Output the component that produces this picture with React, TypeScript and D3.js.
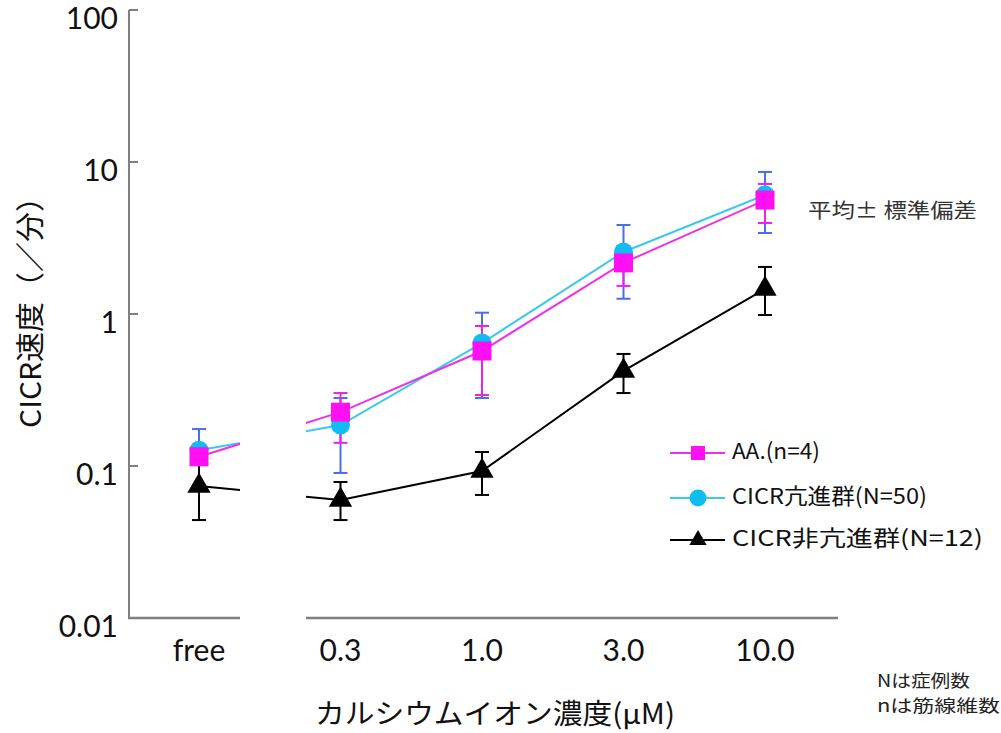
import React, { useEffect, useRef } from "react";
import * as d3 from "d3";

// categories along the x axis (calcium ion concentration)
const categories = ["free", "0.3", "1.0", "3.0", "10.0"];

// AA. (n=4)
const aaMean = [0.115, 0.226, 0.571, 2.17, 5.62];
const aaHigh = [0.13, 0.302, 0.834, 2.7, 7.17];
const aaLow = [0.102, 0.142, 0.293, 1.53, 3.97];

// CICR亢進群 (N=50)
const hyperMean = [0.127, 0.186, 0.644, 2.56, 6.07];
const hyperHigh = [0.175, 0.28, 1.02, 3.85, 8.6];
const hyperLow = [0.105, 0.09, 0.28, 1.26, 3.41];

// CICR非亢進群 (N=12)
const normMean = [0.0738, 0.0597, 0.0927, 0.422, 1.46];
const normHigh = [0.105, 0.0785, 0.1236, 0.546, 2.04];
const normLow = [0.0441, 0.0441, 0.0645, 0.302, 0.985];

const yTicks = [0.01, 0.1, 1, 10, 100];
const yTickLabels = ["0.01", "0.1", "1", "10", "100"];

const legendLabels = ["AA.(n=4)", "CICR亢進群(N=50)", "CICR非亢進群(N=12)"];

const JP = "'Noto Sans CJK JP', 'Noto Sans', sans-serif";
const NUM = "Lato, 'Open Sans', sans-serif";

const App: React.FC = () => {
  const svgRef = useRef<SVGSVGElement | null>(null);

  useEffect(() => {
    const width = 1001;
    const height = 733;
    const axisX = 129;
    const axisY = 618;
    const seg1End = 240;
    const seg2Start = 306;
    const seg2End = 838;

    const svg = d3.select(svgRef.current);
    svg.selectAll("*").remove();
    svg.attr("width", width).attr("height", height).attr("viewBox", [0, 0, width, height]);

    const x = d3.scalePoint<string>().domain(categories).range([199, 765]);
    const y = d3.scaleLog().domain([0.01, 100]).range([axisY, 10]);

    // clip that breaks the lines where the x axis is broken
    const defs = svg.append("defs");
    const clip = defs.append("clipPath").attr("id", "gapclip");
    clip.append("rect").attr("x", 0).attr("y", 0).attr("width", seg1End).attr("height", height);
    clip.append("rect").attr("x", seg2Start).attr("y", 0).attr("width", width - seg2Start).attr("height", height);

    // axes
    const axisColor = "#7f7f7f";
    svg.append("line").attr("x1", axisX).attr("x2", axisX).attr("y1", y(100)).attr("y2", axisY)
      .attr("stroke", axisColor).attr("stroke-width", 2);
    svg.append("line").attr("x1", axisX - 1).attr("x2", seg1End).attr("y1", axisY).attr("y2", axisY)
      .attr("stroke", axisColor).attr("stroke-width", 2.5);
    svg.append("line").attr("x1", seg2Start).attr("x2", seg2End).attr("y1", axisY).attr("y2", axisY)
      .attr("stroke", axisColor).attr("stroke-width", 2.5);

    const yt = svg.append("g");
    yt.selectAll("line").data(yTicks).enter().append("line")
      .attr("x1", axisX).attr("x2", axisX + 9)
      .attr("y1", (d) => y(d)).attr("y2", (d) => y(d))
      .attr("stroke", axisColor).attr("stroke-width", 2);
    yt.selectAll("text").data(yTicks).enter().append("text")
      .attr("x", 118)
      .attr("y", (d) => y(d) + 11)
      .attr("text-anchor", "end")
      .attr("dominant-baseline", "middle")
      .attr("font-family", NUM)
      .attr("font-size", 30)
      .attr("fill", "#111")
      .text((_, i) => yTickLabels[i]);

    svg.append("g").selectAll("text").data(categories).enter().append("text")
      .attr("x", (d) => x(d) as number)
      .attr("y", 661)
      .attr("text-anchor", "middle")
      .attr("font-family", NUM)
      .attr("font-size", 30)
      .attr("fill", "#111")
      .text((d) => d);

    const fitText = (sel: d3.Selection<SVGTextElement, unknown, null, undefined>, len: number) =>
      sel.attr("textLength", len).attr("lengthAdjust", "spacingAndGlyphs");

    // axis titles
    fitText(
      svg.append("text")
        .attr("transform", "translate(41,305) rotate(-90)")
        .attr("x", -123)
        .attr("font-family", JP)
        .attr("font-size", 29)
        .attr("fill", "#111")
        .text("CICR速度（／分）"),
      246,
    );

    fitText(
      svg.append("text")
        .attr("x", 315)
        .attr("y", 724)
        .attr("font-family", JP)
        .attr("font-size", 28)
        .attr("fill", "#111")
        .text("カルシウムイオン濃度(μM)"),
      360,
    );

    fitText(
      svg.append("text")
        .attr("x", 808)
        .attr("y", 218)
        .attr("font-family", JP)
        .attr("font-size", 20)
        .attr("fill", "#333")
        .text("平均± 標準偏差"),
      169,
    );

    fitText(
      svg.append("text").attr("x", 877).attr("y", 687)
        .attr("font-family", JP).attr("font-size", 17).attr("fill", "#222")
        .text("Nは症例数"),
      93,
    );
    fitText(
      svg.append("text").attr("x", 877).attr("y", 712)
        .attr("font-family", JP).attr("font-size", 17).attr("fill", "#222")
        .text("nは筋線維数"),
      123,
    );

    type Series = {
      mean: number[];
      high: number[];
      low: number[];
      line: string;
      marker: string;
      err: string;
      sym: d3.SymbolType;
      size: number;
      legendSize: number;
    };
    const series: Series[] = [
      { mean: normMean, high: normHigh, low: normLow, line: "#000", marker: "#000", err: "#000", sym: d3.symbolTriangle, size: 235, legendSize: 130 },
      { mean: hyperMean, high: hyperHigh, low: hyperLow, line: "#3cc8ee", marker: "#10bdf0", err: "#4a6cf0", sym: d3.symbolCircle, size: 285, legendSize: 225 },
      { mean: aaMean, high: aaHigh, low: aaLow, line: "#ee30e8", marker: "#ff10f2", err: "#f020e8", sym: d3.symbolSquare, size: 361, legendSize: 196 },
    ];

    const cap = 7;
    // error bars
    series.forEach((s) => {
      const g = svg.append("g").attr("stroke", s.err).attr("stroke-width", 2);
      categories.forEach((c, i) => {
        const cx = x(c) as number;
        g.append("line").attr("x1", cx).attr("x2", cx).attr("y1", y(s.high[i])).attr("y2", y(s.low[i]));
        g.append("line").attr("x1", cx - cap).attr("x2", cx + cap).attr("y1", y(s.high[i])).attr("y2", y(s.high[i]));
        g.append("line").attr("x1", cx - cap).attr("x2", cx + cap).attr("y1", y(s.low[i])).attr("y2", y(s.low[i]));
      });
    });

    // lines
    series.forEach((s) => {
      const line = d3.line<number>()
        .x((_, i) => x(categories[i]) as number)
        .y((d) => y(d));
      svg.append("path")
        .attr("d", line(s.mean))
        .attr("fill", "none")
        .attr("stroke", s.line)
        .attr("stroke-width", 2)
        .attr("clip-path", "url(#gapclip)");
    });

    // markers
    series.forEach((s) => {
      svg.append("g").selectAll("path").data(s.mean).enter().append("path")
        .attr("d", d3.symbol().type(s.sym).size(s.size)() as string)
        .attr("transform", (d, i) => `translate(${x(categories[i])},${y(d)})`)
        .attr("fill", s.marker);
    });

    // legend
    const legendRows = [453, 498, 540];
    const legendLens = [88, 195, 251];
    const legendOrder = [2, 1, 0];
    legendOrder.forEach((si, r) => {
      const s = series[si];
      const ly = legendRows[r];
      const g = svg.append("g");
      g.append("line").attr("x1", 670).attr("x2", 725).attr("y1", ly).attr("y2", ly)
        .attr("stroke", s.line).attr("stroke-width", 2);
      g.append("path")
        .attr("d", d3.symbol().type(s.sym).size(s.legendSize)() as string)
        .attr("transform", `translate(698,${ly})`)
        .attr("fill", s.marker);
      fitText(
        g.append("text")
          .attr("x", 732)
          .attr("y", ly)
          .attr("dominant-baseline", "middle")
          .attr("font-family", JP)
          .attr("font-size", 22)
          .attr("fill", "#111")
          .text(legendLabels[r]),
        legendLens[r],
      );
    });
  }, []);

  return (
    <div style={{ position: "absolute", left: 0, top: 0, background: "#fff" }}>
      <svg ref={svgRef} style={{ display: "block" }}></svg>
    </div>
  );
};

export default App;
